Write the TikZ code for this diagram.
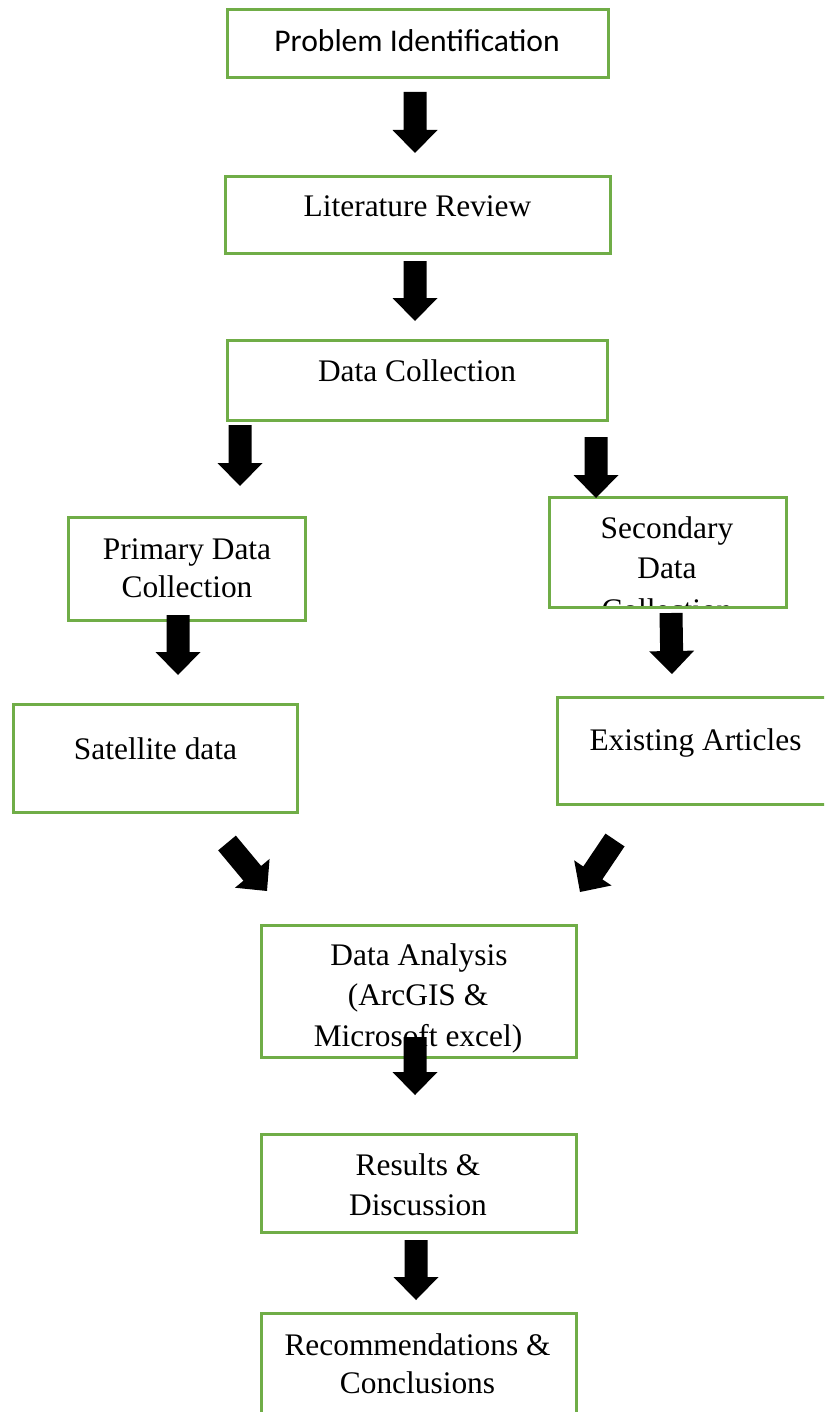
\documentclass[tikz,border=0pt]{standalone}
\usepackage{fontspec}
\setmainfont{Liberation Serif}
\newfontfamily\calibrifont{Carlito}
\usetikzlibrary{calc,fit}
\definecolor{boxgreen}{RGB}{112,173,71}
\tikzset{
  box/.style={draw=boxgreen, line width=1.5pt, inner sep=0pt, outer sep=0pt},
  lbl/.style={anchor=base, inner sep=0pt, font=\fontsize{15.7pt}{20pt}\selectfont},
  clbl/.style={anchor=base, inner sep=0pt, font=\calibrifont\fontsize{15.8pt}{19pt}\selectfont},
}
\newcommand\blockarrow[2]{%
  \fill[black] let \p1=(#1), \p2=(#2),
    \n1={atan2(\y2-\y1,\x2-\x1)}, \n2={veclen(\x2-\x1,\y2-\y1)} in
    [shift={(\p1)}, rotate=\n1]
    (0pt,-5.75pt) -- ({\n2-11.5pt},-5.75pt) -- ({\n2-11.5pt},-11.25pt)
    -- ({\n2+0pt},0pt) -- ({\n2-11.5pt},11.25pt) -- ({\n2-11.5pt},5.75pt)
    -- (0pt,5.75pt) -- cycle;}
\begin{document}
\begin{tikzpicture}[x=0.5pt,y=-0.5pt]
\useasboundingbox (0,0) rectangle (824,1412);
\clip (0,0) rectangle (824,1412);
% texts
\node[clbl] (probT) at (417,52) {Problem Identification};
\node[lbl] (litT) at (417.5,217) {Literature Review};
\node[lbl] (dcT) at (417,381) {Data Collection};
\node[lbl] (primT1) at (187,559) {Primary Data};
\node[lbl] (primT2) at (187,597) {Collection};
\begin{scope}
  \clip (549,497) rectangle (786,606);
  \node[lbl] (secT1) at (667,538) {Secondary};
  \node[lbl] (secT2) at (667,578) {Data};
  \node[lbl] (secT3) at (667,620) {Collection};
\end{scope}
\node[lbl] (satT) at (155.5,759) {Satellite data};
\node[lbl] (exT) at (695.5,750) {Existing Articles};
\node[lbl] (daT1) at (419,965) {Data Analysis};
\node[lbl] (daT2) at (418,1005) {(ArcGIS \&};
\node[lbl] (daT3) at (418,1046) {Microsoft excel)};
\node[lbl] (resT1) at (418,1175) {Results \&};
\node[lbl] (resT2) at (418,1215) {Discussion};
\node[lbl] (recT1) at (417.5,1355) {Recommendations \&};
\node[lbl] (recT2) at (417.5,1393) {Conclusions};
% boxes
\node[box, fit={(227,10) (608,78)}] (prob) {};
\node[box, fit={(225,177) (610,253)}] (lit) {};
\node[box, fit={(227,340) (607,420)}] (dc) {};
\node[box, fit={(68,517) (305,620)}] (prim) {};
\node[box, fit={(549,497) (786,607)}] (sec) {};
\node[box, fit={(13,704) (297,812)}] (sat) {};
\node[box, fit={(557,697) (840,804)}] (exist) {};
\node[box, fit={(261,925) (576,1057)}] (da) {};
\node[box, fit={(261,1134) (576,1232)}] (res) {};
\node[box, fit={(261,1313) (576,1440)}] (rec) {};
% arrow end points
\coordinate (a1s) at (415,92);   \coordinate (a1e) at (415,153);
\coordinate (a2s) at (415,261);  \coordinate (a2e) at (415,321);
\coordinate (a3s) at (240,425);  \coordinate (a3e) at (240,486);
\coordinate (a4s) at (596,437);  \coordinate (a4e) at (596,498);
\coordinate (a5s) at (178,615);  \coordinate (a5e) at (178,675);
\coordinate (a6s) at (671,613);  \coordinate (a6e) at (672,674);
\coordinate (a7s) at (227,843);  \coordinate (a7e) at (267,891);
\coordinate (a8s) at (615,840);  \coordinate (a8e) at (580,892);
\coordinate (a9s) at (415,1037); \coordinate (a9e) at (415,1095);
\coordinate (a10s) at (416,1240); \coordinate (a10e) at (416,1300);
\blockarrow{a1s}{a1e}
\blockarrow{a2s}{a2e}
\blockarrow{a3s}{a3e}
\blockarrow{a4s}{a4e}
\blockarrow{a5s}{a5e}
\blockarrow{a6s}{a6e}
\blockarrow{a7s}{a7e}
\blockarrow{a8s}{a8e}
\blockarrow{a9s}{a9e}
\blockarrow{a10s}{a10e}
\end{tikzpicture}
\end{document}
